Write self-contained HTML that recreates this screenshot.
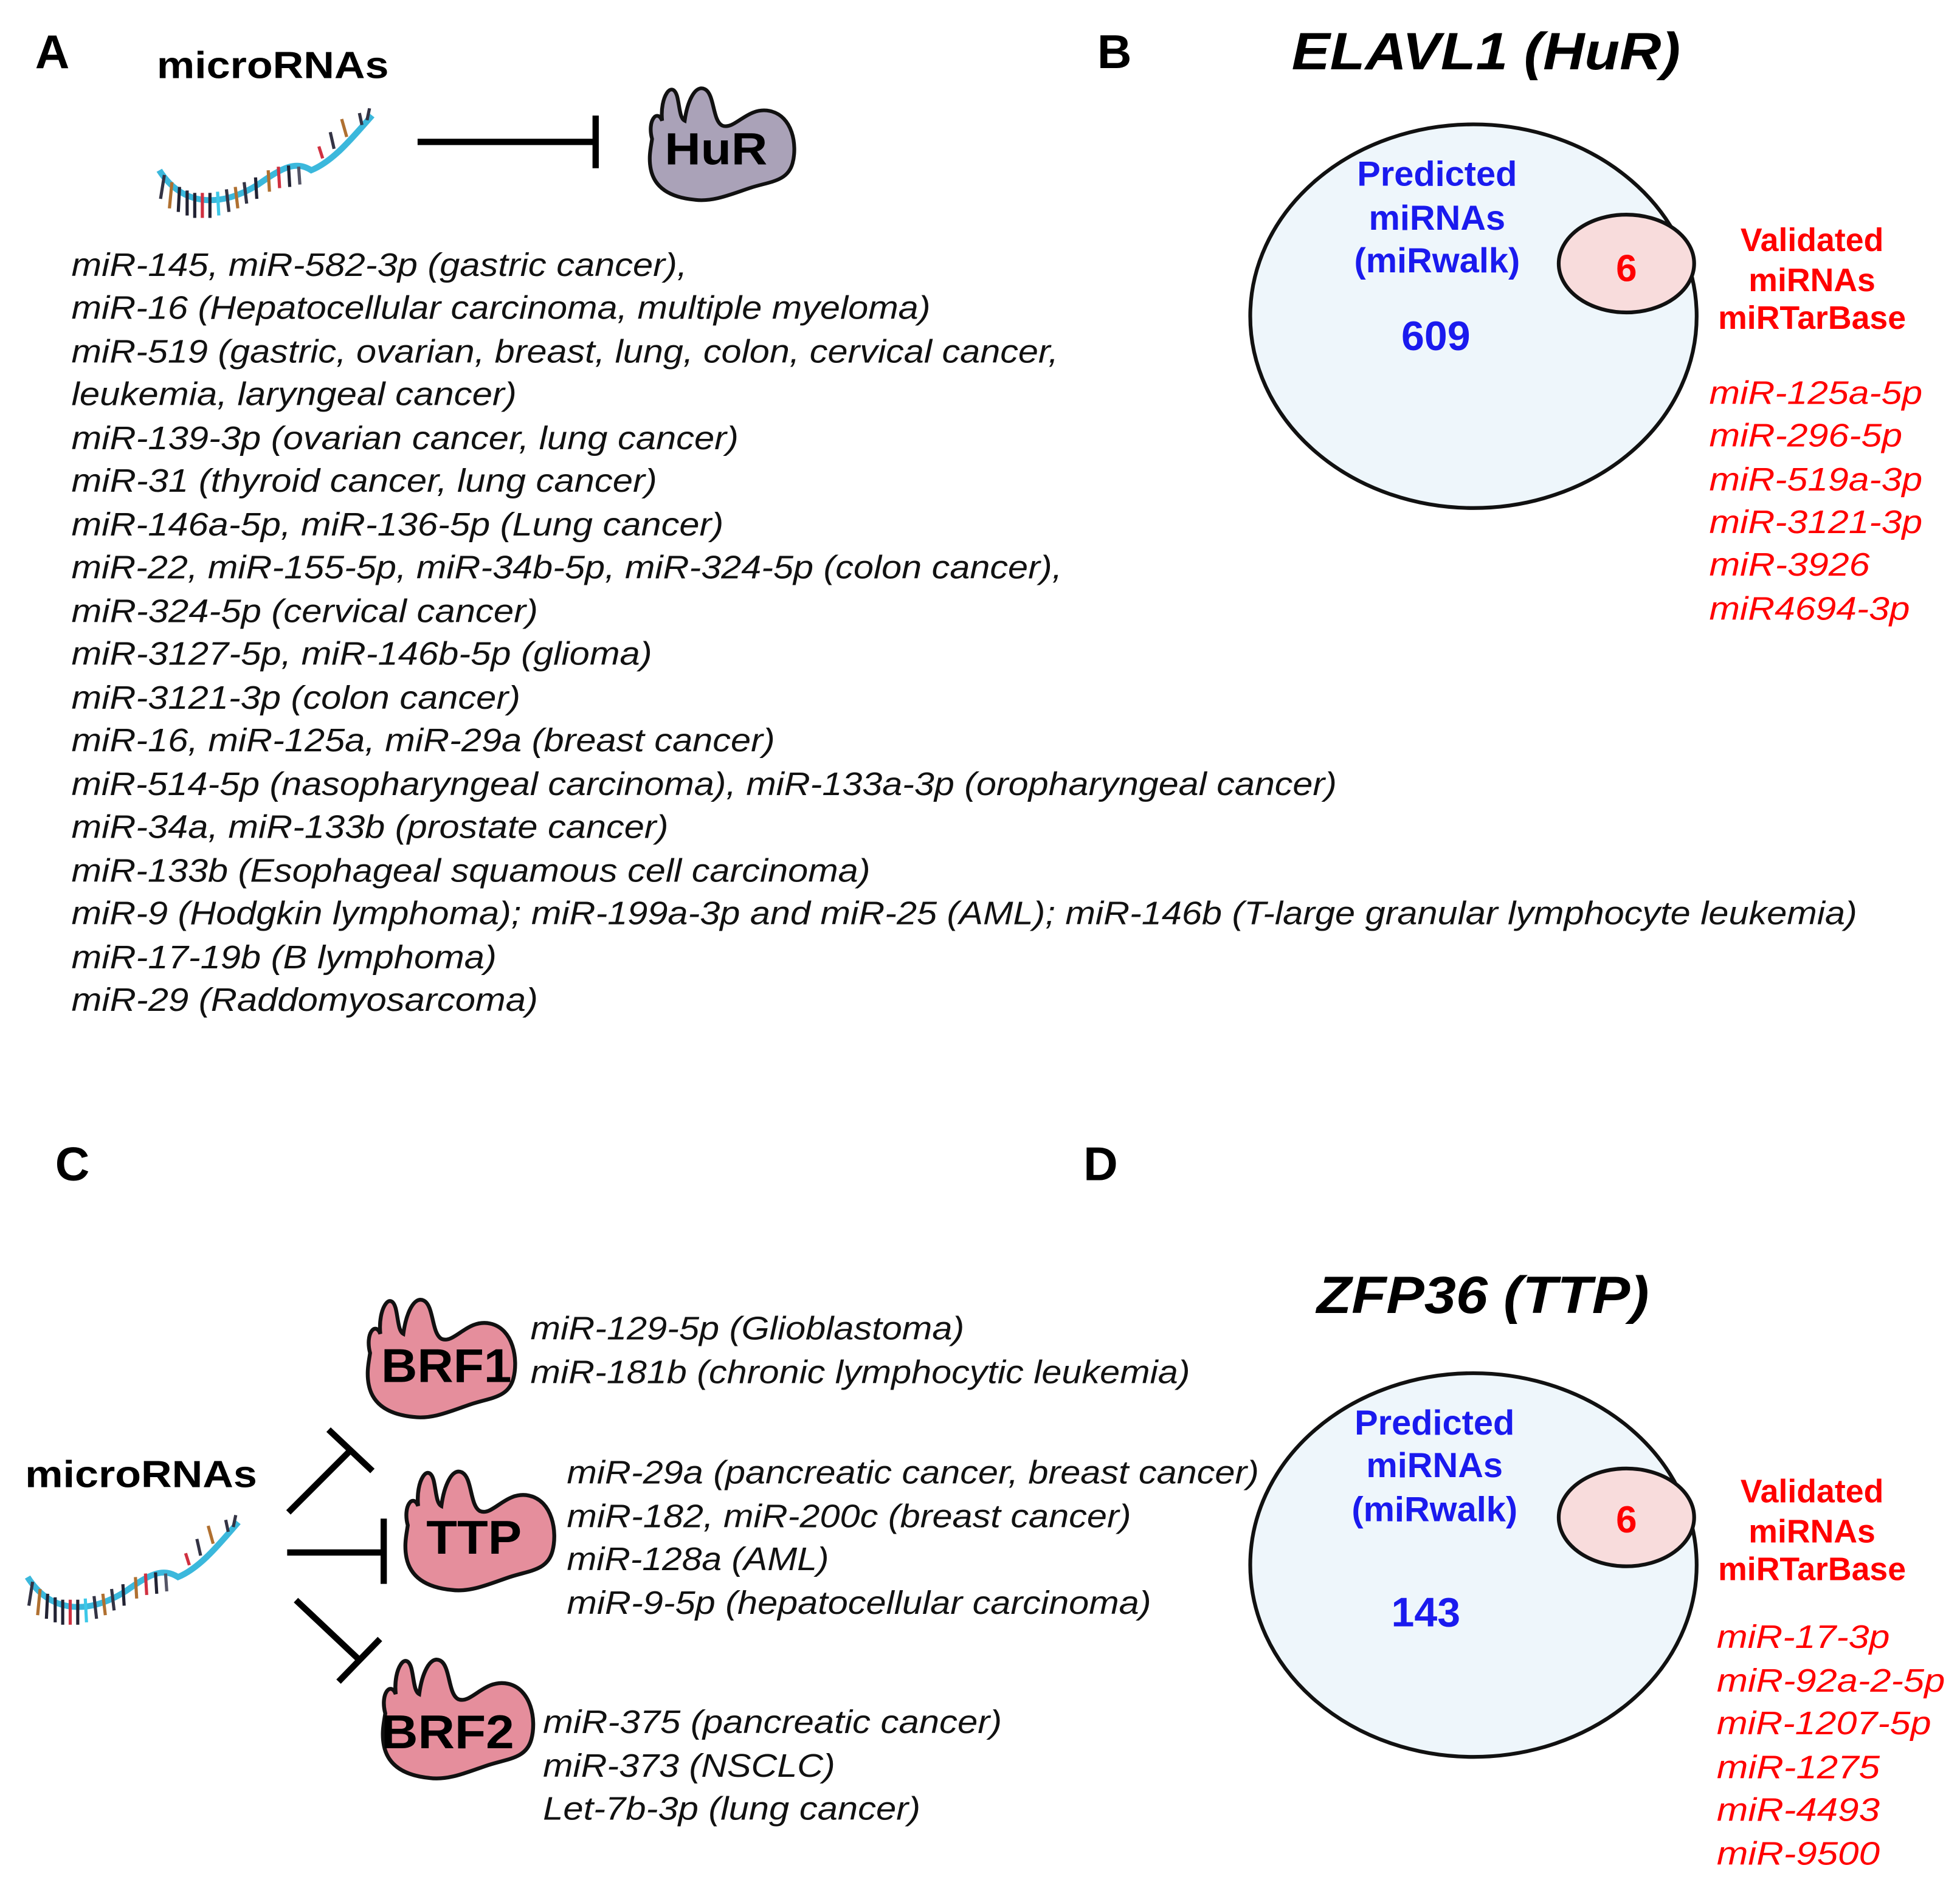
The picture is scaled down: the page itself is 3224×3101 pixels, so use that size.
<!DOCTYPE html>
<html><head><meta charset="utf-8"><style>
html,body{margin:0;padding:0;background:#fff;}
svg{display:block;}
.it{font-family:"Liberation Sans",sans-serif;font-style:italic;font-size:26px;fill:#111;}
.b{font-family:"Liberation Sans",sans-serif;font-weight:bold;}
.ri{font-family:"Liberation Sans",sans-serif;font-style:italic;font-size:26px;fill:#f00;}
.bl{font-family:"Liberation Sans",sans-serif;font-weight:bold;font-size:27px;fill:#1a1aee;}
.rd{font-family:"Liberation Sans",sans-serif;font-weight:bold;font-size:25px;fill:#f00;}
</style></head><body>
<svg width="3224" height="3101" viewBox="0 0 1563 1503" xmlns="http://www.w3.org/2000/svg">
<defs>
<path id="prot" d="M6,45 C2,30 10,20 14,30 C12,10 22,-4 26,10 C28,18 28,28 32,30 C34,15 40,0 48,4 C56,8 54,30 62,34 C72,38 82,18 100,22 C118,26 122,50 118,65 C114,80 100,80 85,85 C70,90 55,97 40,95 C20,93 8,85 5,70 C3,60 5,52 6,45 Z"/>
<g id="rna">
<path d="M2,48 C20,78 50,80 80,60 C100,45 110,40 122,48 C140,40 155,20 170,2" fill="none" stroke="#3bb8dc" stroke-width="5"/>
<g stroke-width="2.5">
<line x1="6" y1="52" x2="3" y2="72" stroke="#334"/>
<line x1="12" y1="58" x2="10" y2="80" stroke="#b07030"/>
<line x1="18" y1="62" x2="17" y2="83" stroke="#223"/>
<line x1="24" y1="65" x2="24" y2="86" stroke="#223"/>
<line x1="30" y1="67" x2="30" y2="88" stroke="#223"/>
<line x1="36" y1="67" x2="36" y2="88" stroke="#d03040"/>
<line x1="42" y1="67" x2="42" y2="88" stroke="#223"/>
<line x1="48" y1="66" x2="49" y2="86" stroke="#3cc8e8"/>
<line x1="55" y1="64" x2="57" y2="83" stroke="#334"/>
<line x1="62" y1="62" x2="64" y2="80" stroke="#b07030"/>
<line x1="69" y1="58" x2="71" y2="76" stroke="#334"/>
<line x1="78" y1="54" x2="79" y2="72" stroke="#223"/>
<line x1="88" y1="48" x2="89" y2="66" stroke="#b07030"/>
<line x1="96" y1="45" x2="97" y2="63" stroke="#d03040"/>
<line x1="104" y1="44" x2="105" y2="62" stroke="#223"/>
<line x1="112" y1="45" x2="113" y2="60" stroke="#556"/>
<line x1="131" y1="38" x2="128" y2="28" stroke="#d03040"/>
<line x1="140" y1="30" x2="137" y2="16" stroke="#334"/>
<line x1="150" y1="20" x2="146" y2="5" stroke="#b07030"/>
<line x1="162" y1="10" x2="160" y2="0" stroke="#334"/>
<line x1="166" y1="6" x2="168" y2="-4" stroke="#334"/>
</g>
</g>
</defs>

<!-- Panel A -->
<text x="28" y="54" class="b" font-size="38">A</text>
<text x="125" y="62" class="b" font-size="30" textLength="185" lengthAdjust="spacingAndGlyphs">microRNAs</text>
<use href="#rna" transform="translate(125,90) scale(1.01,0.95)"/>
<line x1="333" y1="113" x2="475" y2="113" stroke="#000" stroke-width="5"/>
<line x1="475" y1="92" x2="475" y2="134" stroke="#000" stroke-width="5"/>
<use href="#prot" transform="translate(514,67) scale(1.0,0.97)" fill="#aaa2b8" stroke="#111" stroke-width="3"/>
<text x="571" y="131" class="b" font-size="36" text-anchor="middle" textLength="82" lengthAdjust="spacingAndGlyphs">HuR</text>

<g class="it">
<text x="57" y="220" textLength="491" lengthAdjust="spacingAndGlyphs">miR-145, miR-582-3p (gastric cancer),</text>
<text x="57" y="254" textLength="685" lengthAdjust="spacingAndGlyphs">miR-16 (Hepatocellular carcinoma, multiple myeloma)</text>
<text x="57" y="289" textLength="787" lengthAdjust="spacingAndGlyphs">miR-519 (gastric, ovarian, breast, lung, colon, cervical cancer,</text>
<text x="57" y="323" textLength="355" lengthAdjust="spacingAndGlyphs">leukemia, laryngeal cancer)</text>
<text x="57" y="358" textLength="532" lengthAdjust="spacingAndGlyphs">miR-139-3p (ovarian cancer, lung cancer)</text>
<text x="57" y="392" textLength="467" lengthAdjust="spacingAndGlyphs">miR-31 (thyroid cancer, lung cancer)</text>
<text x="57" y="427" textLength="520" lengthAdjust="spacingAndGlyphs">miR-146a-5p, miR-136-5p (Lung cancer)</text>
<text x="57" y="461" textLength="790" lengthAdjust="spacingAndGlyphs">miR-22, miR-155-5p, miR-34b-5p, miR-324-5p (colon cancer),</text>
<text x="57" y="496" textLength="372" lengthAdjust="spacingAndGlyphs">miR-324-5p (cervical cancer)</text>
<text x="57" y="530" textLength="463" lengthAdjust="spacingAndGlyphs">miR-3127-5p, miR-146b-5p (glioma)</text>
<text x="57" y="565" textLength="358" lengthAdjust="spacingAndGlyphs">miR-3121-3p (colon cancer)</text>
<text x="57" y="599" textLength="561" lengthAdjust="spacingAndGlyphs">miR-16, miR-125a, miR-29a (breast cancer)</text>
<text x="57" y="634" textLength="1009" lengthAdjust="spacingAndGlyphs">miR-514-5p (nasopharyngeal carcinoma), miR-133a-3p (oropharyngeal cancer)</text>
<text x="57" y="668" textLength="476" lengthAdjust="spacingAndGlyphs">miR-34a, miR-133b (prostate cancer)</text>
<text x="57" y="703" textLength="637" lengthAdjust="spacingAndGlyphs">miR-133b (Esophageal squamous cell carcinoma)</text>
<text x="57" y="737" textLength="1424" lengthAdjust="spacingAndGlyphs">miR-9 (Hodgkin lymphoma); miR-199a-3p and miR-25 (AML); miR-146b (T-large granular lymphocyte leukemia)</text>
<text x="57" y="772" textLength="339" lengthAdjust="spacingAndGlyphs">miR-17-19b (B lymphoma)</text>
<text x="57" y="806" textLength="372" lengthAdjust="spacingAndGlyphs">miR-29 (Raddomyosarcoma)</text>
</g>

<!-- Panel B -->
<text x="875" y="54" class="b" font-size="38">B</text>
<text x="1030" y="55" class="b" font-size="42" font-style="italic" textLength="310" lengthAdjust="spacingAndGlyphs">ELAVL1 (HuR)</text>
<ellipse cx="1175" cy="252" rx="178" ry="153" fill="#eef6fb" stroke="#111" stroke-width="3"/>
<ellipse cx="1297" cy="210" rx="54" ry="39" fill="#f8dcdc" stroke="#111" stroke-width="3"/>
<text x="1297" y="224" class="b" font-size="30" fill="#f00" text-anchor="middle">6</text>
<g class="bl" text-anchor="middle">
<text x="1146" y="148" font-size="28">Predicted</text>
<text x="1146" y="183" font-size="28">miRNAs</text>
<text x="1146" y="217" font-size="28">(miRwalk)</text>
<text x="1145" y="279" font-size="33">609</text>
</g>
<g class="rd" text-anchor="middle">
<text x="1445" y="200" font-size="26">Validated</text>
<text x="1445" y="232" font-size="26">miRNAs</text>
<text x="1445" y="262" font-size="26">miRTarBase</text>
</g>
<g class="ri">
<text x="1363" y="322" textLength="170" lengthAdjust="spacingAndGlyphs">miR-125a-5p</text>
<text x="1363" y="356" textLength="154" lengthAdjust="spacingAndGlyphs">miR-296-5p</text>
<text x="1363" y="391" textLength="170" lengthAdjust="spacingAndGlyphs">miR-519a-3p</text>
<text x="1363" y="425" textLength="170" lengthAdjust="spacingAndGlyphs">miR-3121-3p</text>
<text x="1363" y="459" textLength="128" lengthAdjust="spacingAndGlyphs">miR-3926</text>
<text x="1363" y="494" textLength="160" lengthAdjust="spacingAndGlyphs">miR4694-3p</text>
</g>

<!-- Panel C -->
<text x="44" y="941" class="b" font-size="38">C</text>
<text x="20" y="1186" class="b" font-size="30" textLength="185" lengthAdjust="spacingAndGlyphs">microRNAs</text>
<use href="#rna" transform="translate(20,1212) scale(1.0,0.95)"/>
<g stroke="#000" stroke-width="5">
<line x1="230" y1="1206" x2="280" y2="1156"/>
<line x1="262" y1="1140" x2="297" y2="1173"/>
<line x1="229" y1="1238" x2="306" y2="1238"/>
<line x1="306" y1="1211" x2="306" y2="1263"/>
<line x1="236" y1="1276" x2="288" y2="1325"/>
<line x1="270" y1="1341" x2="303" y2="1307"/>
</g>
<g fill="#e58e9c" stroke="#111" stroke-width="3">
<use href="#prot" transform="translate(289,1033) scale(1.02,1.02)"/>
<use href="#prot" transform="translate(319,1170) scale(1.03,1.03)"/>
<use href="#prot" transform="translate(301,1320) scale(1.04,1.03)"/>
</g>
<g class="b" font-size="38" text-anchor="middle">
<text x="356" y="1102" textLength="104" lengthAdjust="spacingAndGlyphs">BRF1</text>
<text x="378" y="1239" textLength="76" lengthAdjust="spacingAndGlyphs">TTP</text>
<text x="357" y="1394" textLength="106" lengthAdjust="spacingAndGlyphs">BRF2</text>
</g>
<g class="it">
<text x="423" y="1068" textLength="346" lengthAdjust="spacingAndGlyphs">miR-129-5p (Glioblastoma)</text>
<text x="423" y="1103" textLength="526" lengthAdjust="spacingAndGlyphs">miR-181b (chronic lymphocytic leukemia)</text>
<text x="452" y="1183" textLength="552" lengthAdjust="spacingAndGlyphs">miR-29a (pancreatic cancer, breast cancer)</text>
<text x="452" y="1218" textLength="450" lengthAdjust="spacingAndGlyphs">miR-182, miR-200c (breast cancer)</text>
<text x="452" y="1252" textLength="209" lengthAdjust="spacingAndGlyphs">miR-128a (AML)</text>
<text x="452" y="1287" textLength="466" lengthAdjust="spacingAndGlyphs">miR-9-5p (hepatocellular carcinoma)</text>
<text x="433" y="1382" textLength="366" lengthAdjust="spacingAndGlyphs">miR-375 (pancreatic cancer)</text>
<text x="433" y="1417" textLength="233" lengthAdjust="spacingAndGlyphs">miR-373 (NSCLC)</text>
<text x="433" y="1451" textLength="301" lengthAdjust="spacingAndGlyphs">Let-7b-3p (lung cancer)</text>
</g>

<!-- Panel D -->
<text x="864" y="941" class="b" font-size="38">D</text>
<text x="1050" y="1047" class="b" font-size="42" font-style="italic" textLength="265" lengthAdjust="spacingAndGlyphs">ZFP36 (TTP)</text>
<ellipse cx="1175" cy="1248" rx="178" ry="153" fill="#eef6fb" stroke="#111" stroke-width="3"/>
<ellipse cx="1297" cy="1210" rx="54" ry="39" fill="#f8dcdc" stroke="#111" stroke-width="3"/>
<text x="1297" y="1222" class="b" font-size="30" fill="#f00" text-anchor="middle">6</text>
<g class="bl" text-anchor="middle">
<text x="1144" y="1144" font-size="28">Predicted</text>
<text x="1144" y="1178" font-size="28">miRNAs</text>
<text x="1144" y="1213" font-size="28">(miRwalk)</text>
<text x="1137" y="1297" font-size="33">143</text>
</g>
<g class="rd" text-anchor="middle">
<text x="1445" y="1198" font-size="26">Validated</text>
<text x="1445" y="1230" font-size="26">miRNAs</text>
<text x="1445" y="1260" font-size="26">miRTarBase</text>
</g>
<g class="ri">
<text x="1369" y="1314" textLength="138" lengthAdjust="spacingAndGlyphs">miR-17-3p</text>
<text x="1369" y="1349" textLength="182" lengthAdjust="spacingAndGlyphs">miR-92a-2-5p</text>
<text x="1369" y="1383" textLength="171" lengthAdjust="spacingAndGlyphs">miR-1207-5p</text>
<text x="1369" y="1418" textLength="130" lengthAdjust="spacingAndGlyphs">miR-1275</text>
<text x="1369" y="1452" textLength="130" lengthAdjust="spacingAndGlyphs">miR-4493</text>
<text x="1369" y="1487" textLength="130" lengthAdjust="spacingAndGlyphs">miR-9500</text>
</g>
</svg>
</body></html>
